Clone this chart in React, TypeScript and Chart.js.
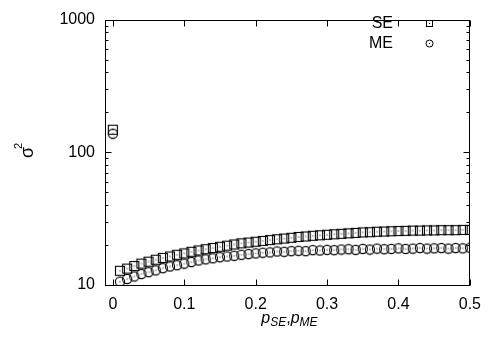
import React, { useEffect, useRef } from 'react';
import { Chart, registerables } from 'chart.js';

Chart.register(...registerables);

const xValues = [
  0, 0.01, 0.02, 0.03, 0.04, 0.05, 0.06, 0.07, 0.08, 0.09,
  0.1, 0.11, 0.12, 0.13, 0.14, 0.15, 0.16, 0.17, 0.18, 0.19,
  0.2, 0.21, 0.22, 0.23, 0.24, 0.25, 0.26, 0.27, 0.28, 0.29,
  0.3, 0.31, 0.32, 0.33, 0.34, 0.35, 0.36, 0.37, 0.38, 0.39,
  0.4, 0.41, 0.42, 0.43, 0.44, 0.45, 0.46, 0.47, 0.48, 0.49, 0.5,
];

const seValues = [
  148, 12.8, 13.3, 13.9, 14.5, 15.0, 15.5, 16.0, 16.4, 16.9,
  17.3, 17.8, 18.2, 18.6, 19.0, 19.4, 19.8, 20.2, 20.6, 20.9,
  21.2, 21.5, 21.8, 22.1, 22.4, 22.7, 23.0, 23.2, 23.5, 23.7,
  23.9, 24.1, 24.3, 24.5, 24.7, 24.9, 25.0, 25.2, 25.3, 25.4,
  25.5, 25.6, 25.7, 25.7, 25.8, 25.8, 25.9, 25.9, 25.9, 26.0, 26.0,
];

const meValues = [
  138, 10.6, 11.1, 11.6, 12.1, 12.5, 12.9, 13.4, 13.8, 14.1,
  14.5, 14.9, 15.3, 15.6, 15.9, 16.2, 16.4, 16.6, 16.9, 17.1,
  17.3, 17.5, 17.6, 17.9, 17.8, 18.0, 18.1, 18.0, 18.3, 18.2,
  18.4, 18.3, 18.5, 18.6, 18.4, 18.7, 18.5, 18.8, 18.6, 18.7,
  18.9, 18.7, 18.8, 19.0, 18.8, 18.9, 19.0, 18.8, 19.0, 18.9, 19.1,
];

const xTickValues = [0, 0.1, 0.2, 0.3, 0.4, 0.5];
const yTickValues = [10, 100, 1000];
const seriesNames = ['SE', 'ME'];

const FONT = '"Liberation Sans", Arial, Helvetica, sans-serif';

function drawSquare(g: CanvasRenderingContext2D, cx: number, cy: number, half: number) {
  g.strokeRect(cx - half, cy - half, half * 2, half * 2);
  g.fillRect(cx - 0.5, cy - 0.5, 1, 1);
}

function drawCircle(g: CanvasRenderingContext2D, cx: number, cy: number, r: number) {
  g.beginPath();
  g.arc(cx, cy, r, 0, Math.PI * 2);
  g.stroke();
  g.fillRect(cx - 0.5, cy - 0.5, 1, 1);
}

function makeImage(kind: 'square' | 'circle'): HTMLCanvasElement {
  const c = document.createElement('canvas');
  c.width = 12;
  c.height = 12;
  const g = c.getContext('2d')!;
  g.strokeStyle = '#000';
  g.fillStyle = '#000';
  g.lineWidth = 1.1;
  if (kind === 'square') drawSquare(g, 6, 6, 4.5);
  else drawCircle(g, 6, 6, 4.6);
  return c;
}

const decorPlugin = {
  id: 'decor',
  afterDraw(chart: any) {
    const { ctx, chartArea: a, scales } = chart;
    const xs = scales.x;
    const ys = scales.y;
    const L = Math.round(a.left) + 0.5;
    const R = Math.round(a.right) - 0.5;
    const T = Math.round(a.top) + 0.5;
    const B = Math.round(a.bottom) + 0.5;
    ctx.save();
    ctx.strokeStyle = '#000';
    ctx.fillStyle = '#000';
    ctx.lineWidth = 1;
    ctx.strokeRect(L, T, R - L, B - T);

    ctx.beginPath();
    for (const v of xTickValues) {
      const px = Math.round(xs.getPixelForValue(v)) + 0.5;
      ctx.moveTo(px, B);
      ctx.lineTo(px, B - 6);
      ctx.moveTo(px, T);
      ctx.lineTo(px, T + 6);
    }
    for (let d = 0; d < yTickValues.length; d++) {
      const base = yTickValues[d];
      const py = Math.round(ys.getPixelForValue(base)) + 0.5;
      ctx.moveTo(L, py);
      ctx.lineTo(L + 6, py);
      ctx.moveTo(R, py);
      ctx.lineTo(R - 6, py);
      if (d < yTickValues.length - 1) {
        for (let m = 2; m <= 9; m++) {
          const pm = Math.round(ys.getPixelForValue(base * m)) + 0.5;
          ctx.moveTo(L, pm);
          ctx.lineTo(L + 3, pm);
          ctx.moveTo(R, pm);
          ctx.lineTo(R - 3, pm);
        }
      }
    }
    ctx.stroke();

    // x title: p_SE,p_ME
    const mainF = `italic 16px ${FONT}`;
    const subF = `italic 12px ${FONT}`;
    const parts: [string, string, number][] = [
      ['p', mainF, 0],
      ['SE', subF, 3],
      [',', `16px ${FONT}`, 0],
      ['p', mainF, 0],
      ['ME', subF, 3],
    ];
    let total = 0;
    for (const [t, f] of parts) {
      ctx.font = f;
      total += ctx.measureText(t).width;
    }
    let cx = (a.left + a.right) / 2 + 2 - total / 2;
    ctx.textBaseline = 'alphabetic';
    ctx.textAlign = 'left';
    for (const [t, f, dy] of parts) {
      ctx.font = f;
      ctx.fillText(t, cx, 323 + dy);
      cx += ctx.measureText(t).width;
    }

    // y title: sigma^2 rotated
    ctx.save();
    ctx.translate(33, 158);
    ctx.rotate(-Math.PI / 2);
    ctx.font = `18px ${FONT}`;
    ctx.fillText('σ', 0, 0);
    const sw = ctx.measureText('σ').width;
    ctx.font = `11px ${FONT}`;
    ctx.fillText('2', sw - 2, -11);
    ctx.restore();

    // legend
    ctx.font = `16px ${FONT}`;
    ctx.textAlign = 'right';
    ctx.textBaseline = 'middle';
    const rows = [23, 43];
    seriesNames.forEach((name, i) => {
      ctx.fillText(name, 393, rows[i] + 1);
    });
    drawSquare(ctx, 429.5, rows[0] + 0.5, 3);
    drawCircle(ctx, 429.5, rows[1] + 0.5, 3.5);
    ctx.restore();
  },
};

export default function App() {
  const ref = useRef<HTMLCanvasElement | null>(null);
  useEffect(() => {
    document.body.style.margin = '0';
    const canvas = ref.current!;
    const sq = makeImage('square');
    const ci = makeImage('circle');
    const chart = new Chart(canvas, {
      type: 'scatter',
      data: {
        datasets: [
          {
            label: seriesNames[0],
            data: xValues.map((x, i) => ({ x, y: seValues[i] })),
            pointStyle: sq as any,
            pointRadius: 5,
            showLine: false,
          },
          {
            label: seriesNames[1],
            data: xValues.map((x, i) => ({ x, y: meValues[i] })),
            pointStyle: ci as any,
            pointRadius: 5,
            showLine: false,
          },
        ],
      },
      options: {
        animation: false,
        responsive: false,
        maintainAspectRatio: false,
        devicePixelRatio: 1,
        layout: { padding: { top: 13, right: 20, left: 0, bottom: 0 } },
        plugins: { legend: { display: false }, tooltip: { enabled: false } },
        scales: {
          x: {
            type: 'linear',
            min: -0.011,
            max: 0.5,
            grid: { display: false, drawTicks: false },
            border: { display: false },
            afterFit: (s: any) => {
              s.height = 60;
            },
            afterBuildTicks: (s: any) => {
              s.ticks = xTickValues.map((v) => ({ value: v }));
            },
            ticks: {
              autoSkip: false,
              maxRotation: 0,
              padding: 10,
              color: '#000',
              font: { family: FONT, size: 16 },
              callback: (v: any) => String(Math.round(Number(v) * 10) / 10),
            },
          },
          y: {
            type: 'logarithmic',
            min: 10,
            max: 1000,
            grid: { display: false, drawTicks: false },
            border: { display: false },
            afterFit: (s: any) => {
              s.width = 105;
            },
            afterBuildTicks: (s: any) => {
              s.ticks = yTickValues.map((v) => ({ value: v }));
            },
            ticks: {
              autoSkip: false,
              padding: 10,
              color: '#000',
              font: { family: FONT, size: 16 },
              callback: (v: any) => String(v),
            },
          },
        },
      },
      plugins: [decorPlugin],
    });
    return () => chart.destroy();
  }, []);
  return (
    <div style={{ position: 'absolute', left: 0, top: 0 }}>
      <canvas ref={ref} width={491} height={345} style={{ width: 491, height: 345, display: 'block' }} />
    </div>
  );
}
